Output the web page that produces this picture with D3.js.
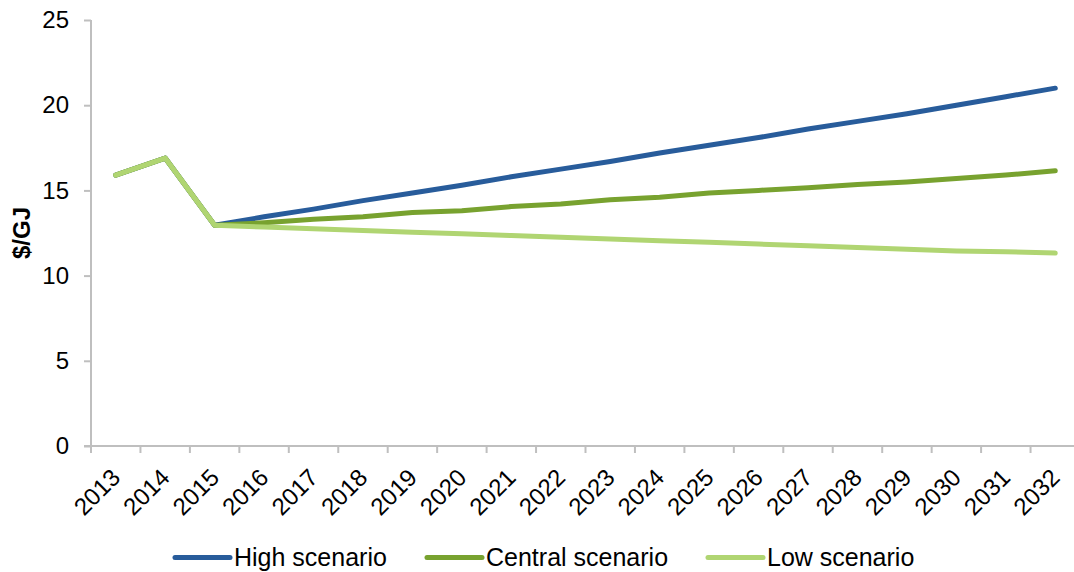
<!DOCTYPE html>
<html>
<head>
<meta charset="utf-8">
<script src="https://cdn.jsdelivr.net/npm/d3@7"></script>
<style>
  body { margin: 0; background: #fff; }
  svg { display: block; font-family: "Liberation Sans", Arial, sans-serif; }
</style>
</head>
<body>
<svg id="chart" width="1074" height="572"></svg>
<script>
// Gas price scenarios, $/GJ
const years = ["2013","2014","2015","2016","2017","2018","2019","2020","2021","2022",
               "2023","2024","2025","2026","2027","2028","2029","2030","2031","2032"];
const highScenario = [15.9, 16.9, 12.95, 13.45, 13.9, 14.4, 14.85, 15.3, 15.8, 16.25,
                      16.7, 17.2, 17.65, 18.1, 18.6, 19.05, 19.5, 20.0, 20.5, 21.0];
const centralScenario = [15.9, 16.9, 12.95, 13.1, 13.3, 13.45, 13.7, 13.8, 14.05, 14.2,
                         14.45, 14.6, 14.85, 15.0, 15.15, 15.35, 15.5, 15.7, 15.9, 16.15];
const lowScenario = [15.9, 16.9, 12.95, 12.85, 12.75, 12.65, 12.55, 12.45, 12.35, 12.25,
                     12.15, 12.05, 11.95, 11.85, 11.75, 11.65, 11.55, 11.45, 11.4, 11.32];
const yTicks = [0, 5, 10, 15, 20, 25];
const seriesNames = ["High scenario", "Central scenario", "Low scenario"];
const seriesColors = ["#285C9B", "#78A22F", "#B0D572"];

const svg = d3.select("#chart");
const plotLeft = 91, plotRight = 1080, plotTop = 20, plotBottom = 446;
const fontFamily = "Liberation Sans, Arial, sans-serif";

const x = d3.scaleBand().domain(years).range([plotLeft, plotRight]);
const y = d3.scaleLinear().domain([0, 25]).range([plotBottom, plotTop]);
const axisColor = "#BFBFBF";

// y axis
const yAxis = svg.append("g").attr("transform", `translate(${plotLeft},0)`)
  .call(d3.axisLeft(y).tickValues(yTicks).tickSize(7).tickPadding(15).tickFormat(d3.format("d")));
yAxis.attr("font-family", fontFamily).attr("font-size", 24);
yAxis.select(".domain").attr("stroke", axisColor).attr("stroke-width", 2).attr("d", `M0,${plotTop}V${plotBottom}`);
yAxis.selectAll(".tick line").attr("stroke", axisColor).attr("stroke-width", 2);
yAxis.selectAll(".tick text").attr("fill", "#000");

// x axis: ticks at category boundaries
const xg = svg.append("g").attr("font-family", fontFamily).attr("font-size", 24);
xg.append("line").attr("x1", plotLeft - 7).attr("x2", plotRight).attr("y1", plotBottom).attr("y2", plotBottom)
  .attr("stroke", axisColor).attr("stroke-width", 2);
xg.selectAll("line.tick").data(years).join("line").attr("class", "tick")
  .attr("x1", d => x(d)).attr("x2", d => x(d))
  .attr("y1", plotBottom).attr("y2", plotBottom + 7)
  .attr("stroke", axisColor).attr("stroke-width", 2);
xg.selectAll("text").data(years).join("text")
  .attr("transform", d => `translate(${x(d) + x.bandwidth() / 2},${plotBottom + 27}) rotate(-45)`)
  .attr("text-anchor", "end").attr("dy", "0.35em")
  .attr("fill", "#000")
  .text(d => d);

// y axis title
svg.append("text")
  .attr("transform", `translate(30,${(plotTop + plotBottom) / 2}) rotate(-90)`)
  .attr("text-anchor", "middle").attr("font-size", 24).attr("font-weight", "bold")
  .attr("font-family", fontFamily)
  .text("$/GJ");

// series lines
const line = d3.line()
  .x((d, i) => x(years[i]) + x.bandwidth() / 2)
  .y(d => y(d));
const series = [highScenario, centralScenario, lowScenario];
[0, 1, 2].forEach(i => {
  svg.append("path").datum(series[i])
    .attr("d", line).attr("fill", "none")
    .attr("stroke", seriesColors[i]).attr("stroke-width", 5)
    .attr("stroke-linecap", "round").attr("stroke-linejoin", "round");
});

// legend
const legendX = [175, 427, 708];
const lg = svg.append("g").attr("font-family", fontFamily).attr("font-size", 25);
seriesNames.forEach((name, i) => {
  lg.append("line").attr("x1", legendX[i]).attr("x2", legendX[i] + 55)
    .attr("y1", 557.5).attr("y2", 557.5)
    .attr("stroke", seriesColors[i]).attr("stroke-width", 5).attr("stroke-linecap", "round");
  lg.append("text").attr("x", legendX[i] + 59).attr("y", 566)
    .attr("fill", "#000").text(name);
});
</script>
</body>
</html>
